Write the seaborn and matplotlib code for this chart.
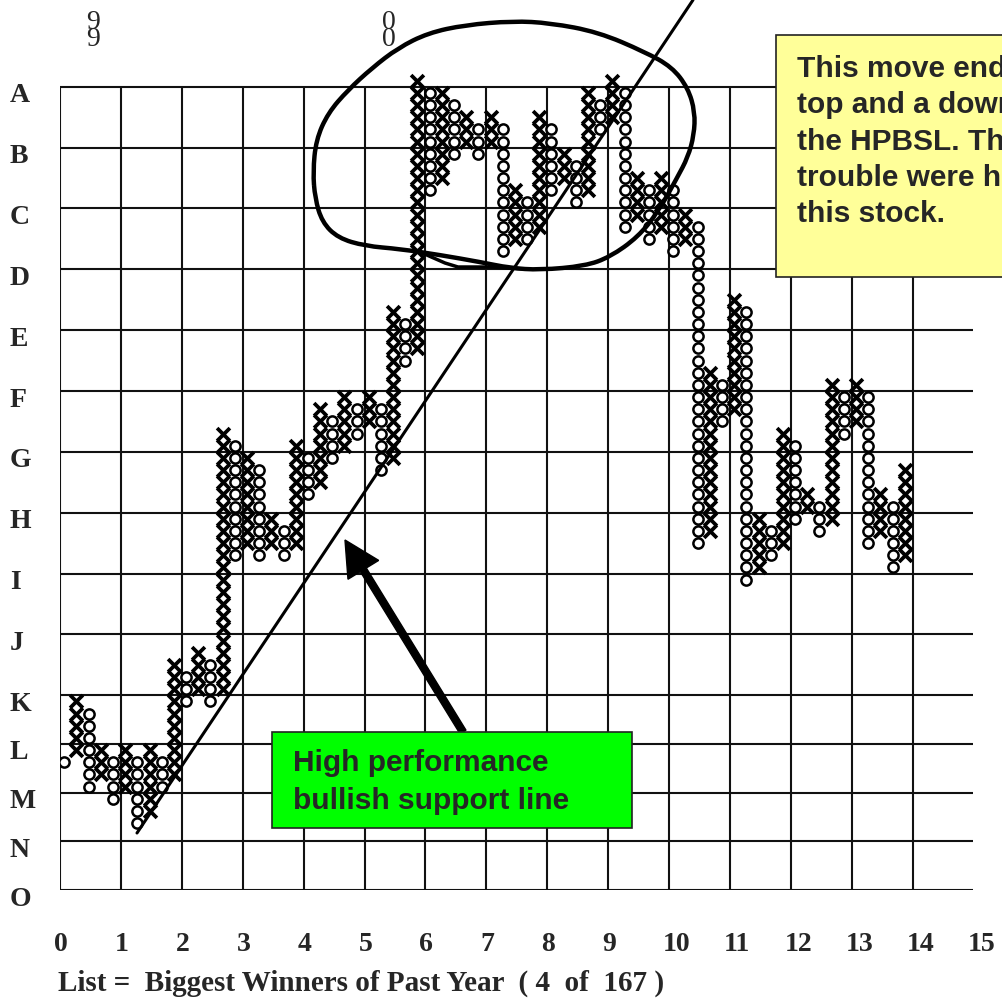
import numpy as np
import pandas as pd
import matplotlib
matplotlib.use("Agg")
import matplotlib.pyplot as plt
import matplotlib.transforms as mtransforms
from matplotlib.patches import Rectangle, FancyArrow, PathPatch
from matplotlib.path import Path
import seaborn as sns

# point & figure columns, left to right; boxes counted from the O row (= 0)
col_kind = list("OXOXOXOXOX" "OXOXOXOXOX" "OXOXOXOXOX" "OXOXOXOXOX"
                "OXOXOXOXOX" "OXOXOXOXOX" "OXOXOXOXOX")
col_low = [10, 11, 8, 9, 7, 8, 5, 6, 8, 9,
           15, 16, 15, 16, 27, 28, 27, 28, 27, 28,
           32, 33, 35, 36, 37, 38, 34, 35, 43, 44,
           57, 58, 60, 61, 60, 61, 52, 53, 53, 54,
           57, 58, 56, 57, 62, 63, 54, 55, 53, 54,
           52, 53, 28, 29, 38, 39, 25, 26, 27, 28,
           30, 31, 29, 30, 37, 38, 28, 29, 26, 27]
col_high = [10, 15, 14, 11, 10, 11, 10, 11, 10, 18,
            17, 19, 18, 37, 36, 35, 34, 30, 29, 36,
            35, 39, 38, 40, 39, 40, 39, 47, 46, 66,
            65, 65, 64, 63, 62, 63, 62, 57, 56, 63,
            62, 60, 59, 65, 64, 66, 65, 58, 57, 58,
            57, 55, 54, 42, 41, 48, 47, 30, 29, 37,
            36, 32, 31, 41, 40, 41, 40, 32, 31, 34]

# axis labels
x_labels = [str(i) for i in range(16)]
row_labels = list("ABCDEFGHIJKLMNO")
row_pos = [66, 61, 56, 51, 46, 41, 36, 31, 26, 21, 16, 12, 8, 4, 0]

# expand each column into its boxes
rows = []
for k, (kind, lo, hi) in enumerate(zip(col_kind, col_low, col_high)):
    for b in range(lo, hi + 1):
        rows.append((k + 0.35, b + 0.5, kind))
df = pd.DataFrame(rows, columns=["col", "box", "kind"])

sns.set_style("white")
plt.rcParams["font.family"] = ["Liberation Serif", "DejaVu Serif"]

fig = plt.figure(figsize=(10.03, 10.0), dpi=100)
ax = fig.add_axes([60 / 1003, 110 / 1000, 913.5 / 1003, 890 / 1000])
ax.set_xlim(0, 75)
ax.set_ylim(0, 890 / 12.17)
for s in ax.spines.values():
    s.set_visible(False)

# grid
ax.vlines(np.arange(0, 71, 5), 0, 66, color="#111111", lw=1.5, zorder=1)
ax.hlines(row_pos, 0, 75, color="#111111", lw=1.5, zorder=1)

# X and O boxes
sns.scatterplot(data=df[df["kind"] == "X"], x="col", y="box", marker="x",
                s=85, color="black", linewidth=2.7, ax=ax, zorder=3, legend=False)
sns.scatterplot(data=df[df["kind"] == "O"], x="col", y="box", marker="o",
                s=54, facecolors="white", edgecolor="black", linewidth=1.8,
                ax=ax, zorder=3, legend=False)
ax.set_xlabel("")
ax.set_ylabel("")

# tick labels
ax.set_xticks(np.arange(0, 76, 5), x_labels, fontsize=20, fontweight="bold")
ax.tick_params(axis="x", length=0, pad=30)
ax.set_yticks(row_pos, row_labels, fontsize=20, fontweight="bold")
ax.tick_params(axis="y", length=0, pad=36)
dx = mtransforms.ScaledTranslation(-0.06, 0, fig.dpi_scale_trans)
for lab in ax.get_xticklabels():
    lab.set_horizontalalignment("left")
    lab.set_transform(lab.get_transform() + dx)
dy = mtransforms.ScaledTranslation(0, -0.06, fig.dpi_scale_trans)
for lab in ax.get_yticklabels():
    lab.set_horizontalalignment("left")
    lab.set_transform(lab.get_transform() + dy)

# annotations placed in reference pixel coordinates
ref = mtransforms.Affine2D().scale(1 / 1003, -1 / 1000).translate(0, 1) + fig.transFigure

for xc, yr in [(93, "9\n9"), (389, "0\n0")]:
    fig.text(xc, 31, yr, transform=ref, ha="center", va="center",
             fontsize=20, linespacing=0.62)
fig.text(58, 991, "List =  Biggest Winners of Past Year  ( 4  of  167 )",
         transform=ref, ha="left", va="baseline", fontsize=21, fontweight="bold")

# high performance bullish support line
line = plt.Line2D([137, 693], [833, 0], transform=ref, color="black", lw=2.2, zorder=4)
fig.add_artist(line)

# hand drawn loop around the top
loop = [(313, 172), (316, 140), (328, 113), (348, 90), (372, 68), (398, 48),
        (428, 33), (465, 25), (513, 21), (550, 23), (598, 32), (645, 52),
        (672, 67), (688, 88), (695, 112), (694, 135), (688, 157), (677, 178),
        (658, 212), (638, 237), (610, 257), (585, 266), (540, 270), (510, 268),
        (480, 262), (440, 255), (400, 249), (365, 246), (338, 238), (322, 222),
        (315, 198)]
pts = np.array(loop, dtype=float)
mid = (pts + np.roll(pts, -1, axis=0)) / 2
verts = [tuple(mid[-1])]
codes = [Path.MOVETO]
for i in range(len(pts)):
    verts += [tuple(pts[i]), tuple(mid[i])]
    codes += [Path.CURVE3, Path.CURVE3]
fig.add_artist(PathPatch(Path(verts, codes), transform=ref, fill=False,
                         edgecolor="black", lw=3.2, zorder=5))
extra = np.array([(420, 252), (445, 263), (458, 267), (490, 267), (525, 269)])
fig.add_artist(plt.Line2D(extra[:, 0], extra[:, 1], transform=ref,
                          color="black", lw=2.5, zorder=5))

# arrow
fig.add_artist(FancyArrow(463, 732, -118, -192, width=7, head_width=36,
                          head_length=35, length_includes_head=True,
                          transform=ref, color="black", zorder=6))

# green label box
fig.add_artist(Rectangle((272, 732), 360, 96, transform=ref, facecolor="#00ff00",
                         edgecolor="#222222", lw=1.2, zorder=7))
for txt, yb in zip(["High performance", "bullish support line"], [771, 809]):
    fig.text(293, yb, txt, transform=ref, ha="left", va="baseline",
             fontsize=21.5, fontweight="bold", family="Liberation Sans", zorder=8)

# yellow note box (runs off the right edge, as in the original slide)
fig.add_artist(Rectangle((776, 35), 260, 242, transform=ref, facecolor="#ffff99",
                         edgecolor="#222222", lw=1.2, zorder=7))
note = ["This move ended", "top and a down", "the HPBSL. The",
        "trouble were here", "this stock."]
for i, txt in enumerate(note):
    fig.text(797, 77 + i * 36.3, txt, transform=ref, ha="left", va="baseline",
             fontsize=21.5, fontweight="bold", family="Liberation Sans", zorder=8)

fig.savefig("out.png", dpi=100)
